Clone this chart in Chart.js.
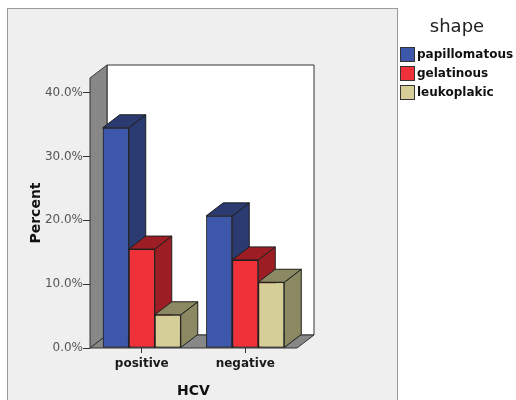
<!DOCTYPE html>
<html>
<head>
<meta charset="utf-8">
<script src="https://cdn.jsdelivr.net/npm/chart.js@4/dist/chart.umd.min.js"></script>
<style>
  html, body { margin: 0; padding: 0; background: #fff; }
  #wrap { position: relative; width: 516px; height: 400px; overflow: hidden; }
  #panel {
    position: absolute; left: 7px; top: 8px; width: 391px; height: 400px;
    background: #efefef; border: 1px solid #9a9a9a; box-sizing: border-box;
  }
  #chart { position: absolute; left: 0; top: 0; }
  #legend { position: absolute; left: 398px; top: 0; width: 118px; font-family: "DejaVu Sans", sans-serif; color: #111; }
  #legend .title { position: absolute; left: 0; top: 16px; width: 118px; text-align: center; font-size: 18px; line-height: 20px; color: #222; }
  #legend .items { position: absolute; left: 2px; top: 45px; }
  #legend .item { display: flex; align-items: center; height: 19px; }
  #legend .sw { width: 15px; height: 15px; box-sizing: border-box; border: 1px solid #333; }
  #legend .lbl { margin-left: 2px; font-size: 12px; font-weight: bold; line-height: 15px; white-space: nowrap; }
</style>
</head>
<body>
<div id="wrap">
  <div id="panel"></div>
  <canvas id="chart" width="516" height="400"></canvas>
  <div id="legend"><div class="title">shape</div><div class="items"></div></div>
</div>
<script>
// HCV status groups and percentage of cases per lesion shape
const categories = ['positive', 'negative'];
const seriesNames = ['papillomatous', 'gelatinous', 'leukoplakic'];
const papillomatous = [34.5, 20.7];
const gelatinous = [15.5, 13.8];
const leukoplakic = [5.2, 10.3];
const yTicks = [0, 10, 20, 30, 40];
const yMax = 42.3;

// face colours: front face and the darker shade used for top / side faces
const palette = [
  { front: '#3d57ab', shade: '#2b3b71' },
  { front: '#f0313a', shade: '#9c1e24' },
  { front: '#d5cf97', shade: '#8b8961' }
];

// depth offset of the extruded boxes and chart walls
const DX = 17, DY = -13;
const EDGE = '#1e1e1e';

function poly(ctx, pts, fill) {
  ctx.beginPath();
  ctx.moveTo(pts[0][0], pts[0][1]);
  for (let i = 1; i < pts.length; i++) ctx.lineTo(pts[i][0], pts[i][1]);
  ctx.closePath();
  ctx.fillStyle = fill;
  ctx.fill();
  ctx.stroke();
}

const box3d = {
  id: 'box3d',
  beforeDatasetsDraw(chart) {
    const ctx = chart.ctx;
    const { left: L, right: R, top: T, bottom: B } = chart.chartArea;
    ctx.save();
    ctx.lineWidth = 1;
    ctx.strokeStyle = '#333';
    // back wall
    poly(ctx, [[L + DX, T + DY], [R + DX, T + DY], [R + DX, B + DY], [L + DX, B + DY]], '#ffffff');
    // left wall
    poly(ctx, [[L, B], [L, T], [L + DX, T + DY], [L + DX, B + DY]], '#878787');
    // floor
    poly(ctx, [[L, B], [R, B], [R + DX, B + DY], [L + DX, B + DY]], '#878787');
    ctx.restore();
  },
  afterDatasetsDraw(chart) {
    const ctx = chart.ctx;
    ctx.save();
    ctx.lineWidth = 1;
    ctx.strokeStyle = EDGE;
    const n = chart.data.labels.length;
    for (let i = 0; i < n; i++) {
      // left to right inside each group so each box hides its neighbour's side face
      for (let d = 0; d < chart.data.datasets.length; d++) {
        const el = chart.getDatasetMeta(d).data[i];
        const { x, y, base, width } = el.getProps(['x', 'y', 'base', 'width'], true);
        const xl = x - width / 2, xr = x + width / 2;
        const shade = palette[d].shade;
        poly(ctx, [[xr, y], [xr + DX, y + DY], [xr + DX, base + DY], [xr, base]], shade);
        poly(ctx, [[xl, y], [xr, y], [xr + DX, y + DY], [xl + DX, y + DY]], shade);
        el.draw(ctx, chart.chartArea);
      }
    }
    ctx.restore();
  }
};

const seriesValues = [papillomatous, gelatinous, leukoplakic];

const chart = new Chart(document.getElementById('chart'), {
  type: 'bar',
  data: {
    labels: categories,
    datasets: seriesNames.map((name, k) => ({
      label: name,
      data: seriesValues[k],
      backgroundColor: palette[k].front,
      borderColor: EDGE,
      borderWidth: 1,
      borderSkipped: false,
      categoryPercentage: 0.754,
      barPercentage: 1.0
    }))
  },
  options: {
    responsive: false,
    devicePixelRatio: 1,
    animation: false,
    layout: { padding: { left: 0, top: 78, right: 219, bottom: 0 } },
    plugins: {
      legend: { display: false },
      tooltip: { enabled: false }
    },
    scales: {
      x: {
        grid: { display: true, drawOnChartArea: false, offset: false, tickLength: 5, color: '#333', tickColor: '#333' },
        border: { display: false },
        ticks: { padding: 4, color: '#1a1a1a', font: { family: 'DejaVu Sans', size: 12, weight: 'bold' } },
        title: {
          display: true, text: 'HCV', color: '#111',
          font: { family: 'DejaVu Sans', size: 14, weight: 'bold' },
          padding: { top: 0, bottom: 0 }
        },
        afterFit(scale) { scale.height = 52; }
      },
      y: {
        min: 0,
        max: yMax,
        afterBuildTicks(scale) { scale.ticks = yTicks.map(v => ({ value: v })); },
        grid: { display: true, drawOnChartArea: false, tickLength: 7, color: '#333', tickColor: '#333' },
        border: { display: false },
        ticks: {
          padding: 0, color: '#555',
          font: { family: 'DejaVu Sans', size: 12 },
          callback: v => v.toFixed(1) + '%'
        },
        title: {
          display: true, text: 'Percent', color: '#111',
          font: { family: 'DejaVu Sans', size: 14, weight: 'bold' },
          padding: { top: 28, bottom: 0 }
        },
        afterFit(scale) { scale.width = 90; }
      }
    }
  },
  plugins: [box3d]
});

// legend built from the chart's own datasets
const items = document.querySelector('#legend .items');
chart.data.datasets.forEach(ds => {
  const row = document.createElement('div');
  row.className = 'item';
  const sw = document.createElement('div');
  sw.className = 'sw';
  sw.style.background = ds.backgroundColor;
  const lbl = document.createElement('div');
  lbl.className = 'lbl';
  lbl.textContent = ds.label;
  row.appendChild(sw);
  row.appendChild(lbl);
  items.appendChild(row);
});
</script>
</body>
</html>
